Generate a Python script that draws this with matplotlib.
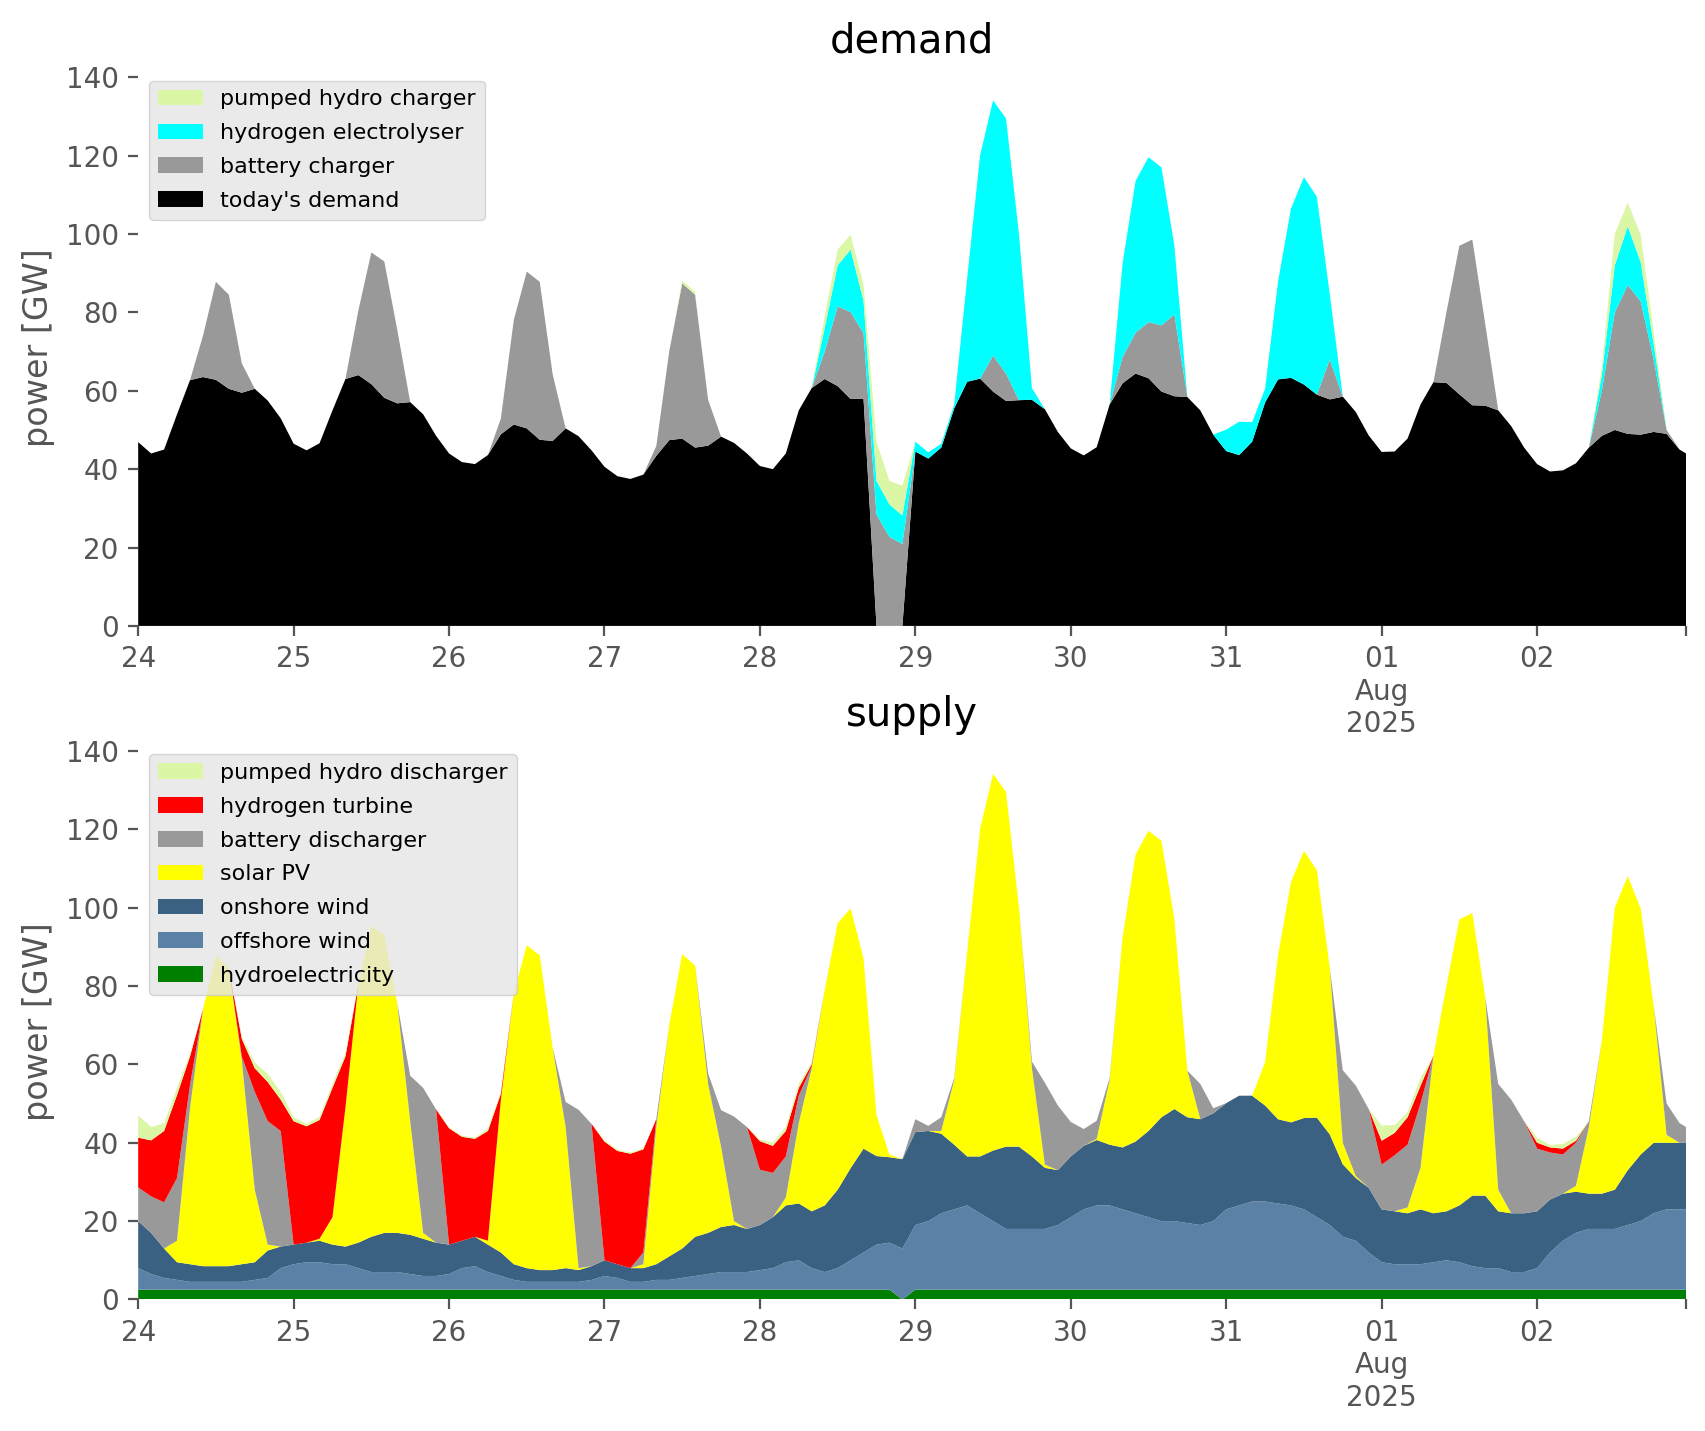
import matplotlib
matplotlib.use('Agg')
import matplotlib.pyplot as plt
import numpy as np
import pandas as pd

plt.style.use('ggplot')

# two-hourly samples, 24 Jul 2025 00:00 to 3 Aug 00:00
times = pd.date_range('2025-07-24', periods=121, freq='2h')

# ---- demand side [GW] (one row per day)
todays_demand = [
    46.9, 44.0, 45.0, 54.0, 62.7, 63.5, 62.8, 60.5, 59.5, 60.5, 57.5, 53.0,
    46.5, 44.8, 46.6, 55.0, 63.0, 64.0, 61.7, 58.2, 56.8, 57.1, 54.0, 48.5,
    44.0, 41.8, 41.3, 43.6, 48.9, 51.4, 50.4, 47.5, 47.2, 50.4, 48.4, 44.8,
    40.6, 38.2, 37.5, 38.6, 43.4, 47.4, 47.8, 45.5, 46.0, 48.3, 46.7, 44.0,
    40.8, 40.0, 44.0, 55.0, 60.7, 63.0, 61.2, 57.9, 58.0, 0.0, 0.0, 0.0,
    44.5, 42.7, 45.5, 55.5, 62.3, 63.1, 59.8, 57.4, 57.6, 57.7, 55.3, 49.5,
    45.3, 43.5, 45.6, 56.5, 61.9, 64.4, 63.2, 59.8, 58.6, 58.4, 55.0, 48.8,
    44.6, 43.6, 47.0, 57.0, 62.9, 63.3, 61.6, 59.0, 57.8, 58.5, 54.6, 48.6,
    44.4, 44.5, 47.8, 56.5, 62.2, 62.0, 59.1, 56.3, 56.2, 55.0, 51.0, 45.5,
    41.3, 39.4, 39.7, 41.5, 45.5, 48.5, 50.0, 49.0, 48.8, 49.5, 49.0, 45.0,
    43.0]
battery_charger = [
    0, 0, 0, 0, 0, 10.5, 25, 24, 7.5, 0, 0, 0,
    0, 0, 0, 0, 0, 16.5, 33.6, 34.8, 18.8, 0, 0, 0,
    0, 0, 0, 0, 4, 26.7, 40, 40.3, 17, 0, 0, 0,
    0, 0, 0, 0, 2.5, 22.7, 39.6, 39, 11.7, 0, 0, 0,
    0, 0, 0, 0, 0, 7, 20.3, 22.2, 16.7, 28.5, 22.7, 20.9,
    0, 0, 0, 0, 0, 0, 9.2, 7, 0, 0, 0, 0,
    0, 0, 0, 0, 6.7, 10.4, 14.3, 16.9, 20.9, 0, 0, 0,
    0, 0, 0, 0, 0, 0, 0, 0, 10.2, 0, 0, 0,
    0, 0, 0, 0, 0, 18, 37.9, 42.3, 20.8, 0, 0, 0,
    0, 0, 0, 0, 0, 11.5, 30, 38, 34, 18.5, 1, 0,
    0]
hydrogen_electrolyser = [
    0, 0, 0, 0, 0, 0, 0, 0, 0, 0, 0, 0,
    0, 0, 0, 0, 0, 0, 0, 0, 0, 0, 0, 0,
    0, 0, 0, 0, 0, 0, 0, 0, 0, 0, 0, 0,
    0, 0, 0, 0, 0, 0, 0, 0, 0, 0, 0, 0,
    0, 0, 0, 0, 0, 6, 10.5, 15.9, 8.3, 8.5, 8.3, 7.3,
    2.5, 1.6, 1, 1, 26.4, 57, 65.1, 65.1, 42.4, 3, 0, 0,
    0, 0, 0, 0, 23.9, 38.7, 42.1, 40.3, 17.5, 0, 0, 0,
    5.5, 8.5, 5, 3.5, 24.9, 43.2, 52.9, 50.5, 16.5, 0, 0, 0,
    0, 0, 0, 0, 0, 0, 0, 0, 0, 0, 0, 0,
    0, 0, 0, 0, 0, 4, 12, 15, 10, 4, 0, 0,
    0]
pumped_hydro_charger = [
    0, 0, 0, 0, 0, 0, 0, 0, 0, 0, 0, 0,
    0, 0, 0, 0, 0, 0, 0, 0, 0, 0, 0, 0,
    0, 0, 0, 0, 0, 0, 0, 0, 0, 0, 0, 0,
    0, 0, 0, 0, 0, 0, 0.7, 0.7, 0, 0, 0, 0,
    0, 0, 0, 0, 0, 3, 4, 3.8, 4, 10, 6, 7.6,
    0, 0, 0, 0, 0, 0, 0, 0, 0, 0, 0, 0,
    0, 0, 0, 0, 0, 0, 0, 0, 0, 0, 0, 0,
    0, 0, 0, 0, 0, 0, 0, 0, 0, 0, 0, 0,
    0, 0, 0, 0, 0, 0, 0, 0, 0, 0, 0, 0,
    0, 0, 0, 0, 0, 2, 8, 6, 7, 3, 0, 0,
    0]

# ---- supply side [GW]
hydroelectricity = [2.5] * 121
hydroelectricity[59] = 0.0
offshore_wind = [
    5.5, 4, 3, 2.5, 2, 2, 2, 2, 2, 2.5, 3, 5.5,
    6.5, 7, 7, 6.5, 6.5, 5.5, 4.5, 4.5, 4.5, 4, 3.5, 3.5,
    4, 5.5, 6, 4.5, 3.5, 2.5, 2, 2, 2, 2, 2, 2.5,
    3.5, 3, 2, 2, 2.5, 2.5, 3, 3.5, 4, 4.5, 4.5, 4.5,
    5, 5.5, 7, 7.5, 5.5, 4.5, 5.5, 7.5, 9.5, 11.5, 12, 13,
    16.5, 17.5, 19.5, 20.5, 21.5, 19.5, 17.5, 15.5, 15.5, 15.5, 15.5, 16.5,
    18.5, 20.5, 21.5, 21.5, 20.5, 19.5, 18.5, 17.5, 17.5, 17, 16.5, 17.5,
    20.5, 21.5, 22.5, 22.5, 22, 21.5, 20.5, 18.5, 16.5, 13.5, 12.5, 9.5,
    7, 6.5, 6.5, 6.5, 7, 7.5, 7, 6, 5.5, 5.5, 4.5, 4.5,
    5.5, 9.5, 12.5, 14.5, 15.5, 15.5, 15.5, 16.5, 17.5, 19.5, 20.5, 20.5,
    20.5]
onshore_wind = [
    12, 10.5, 7.5, 4.5, 4.5, 4, 4, 4, 4.5, 4.5, 7, 5.5,
    5, 5, 5.5, 5, 4.5, 6.5, 9, 10, 10, 10, 9.5, 8.5,
    7.5, 7, 7.5, 7, 6, 4, 3.5, 3, 3, 3.5, 3, 3.5,
    4, 3.5, 3.5, 3.5, 4, 6, 7.5, 10, 10.5, 11.5, 12, 11,
    11.5, 13, 14.5, 14.5, 14.5, 17, 20, 23.5, 26.5, 22.6, 21.8, 22.8,
    23.7, 23, 20.3, 16.5, 12.5, 14.5, 18, 21, 21, 18.5, 15.6, 14,
    15.5, 16.2, 16.7, 15.5, 15.8, 18.3, 22, 26.5, 28.6, 27, 27, 27.5,
    27.1, 28, 27, 24.5, 21.5, 21.2, 23.3, 25.4, 23.1, 18.5, 16, 16.5,
    13.5, 13.5, 13, 14, 12.5, 12.5, 14.5, 18, 18.5, 14.5, 15, 15,
    14.5, 13.5, 12, 10.5, 9, 9, 10, 14, 17, 18, 17, 17,
    17]
solar_pv = [
    0, 0, 0, 5.5, 39.8, 65.5, 79.3, 76, 52, 18.5, 1.5, 0,
    0, 0, 0.5, 7, 35.5, 66, 79.3, 76, 58.6, 29, 1.5, 0,
    0, 0, 0, 1, 39, 69.2, 82.4, 80.3, 56.7, 36, 0.5, 0,
    0, 0, 0, 1, 35, 59.1, 75.1, 69.2, 38, 20.5, 1, 0,
    0, 0, 2, 20.5, 36.5, 55, 68, 66.3, 48.5, 10.4, 0.7, 0,
    0, 0, 0.7, 16.5, 52.2, 83.6, 96.1, 90.5, 61, 22.5, 0.8, 0,
    0, 0, 0.3, 16.5, 53.7, 73.2, 76.6, 70.5, 48.4, 11.9, 0, 0,
    0, 0, 0, 11, 41.8, 61.3, 68.2, 63.1, 42.4, 5.5, 0.5, 0,
    0, 0, 1.5, 10.6, 40.2, 57.5, 73, 72.1, 50.5, 5.5, 0, 0,
    0, 0, 0, 1.5, 17, 39, 72, 75, 62.8, 35, 2, 0,
    0]
battery_discharger = [
    8.6, 9.3, 11.8, 16, 5.9, 0, 0, 0, 1, 25, 31.5, 29.5,
    0, 0, 0, 0, 0, 0, 0, 0, 0, 11.6, 37, 34,
    0, 0, 0, 0, 0, 0, 0, 0, 0, 6.4, 40.4, 36.3,
    0, 0, 0, 3, 2, 0, 0, 0, 2.7, 9.3, 26.7, 26,
    14.1, 11.3, 10.5, 7, 0.5, 0, 0, 0, 0, 0, 0, 0,
    3.3, 1.3, 3.5, 0.5, 0, 0, 0, 0, 0, 1.7, 20.9, 16.5,
    8.8, 4.3, 4.6, 0.5, 0, 0, 0, 0, 0, 0, 9, 1.3,
    0, 0, 0, 0, 0, 0, 0, 0, 0, 18.5, 23.1, 20.1,
    11.4, 14.3, 16, 16.4, 0, 0, 0, 0, 0, 27, 29, 23.5,
    16, 12, 10, 11, 1.5, 0, 0, 0, 0, 0, 8, 5,
    3]
hydrogen_turbine = [
    12.7, 14.3, 18.2, 21.2, 7.3, 0, 0, 0, 4.5, 6, 10, 8,
    31.5, 29.7, 30.3, 33, 13, 0, 0, 0, 0, 0, 0, 0,
    29.7, 26.5, 25, 28, 1.5, 0, 0, 0, 0, 0, 0, 0,
    30.3, 28.9, 29.2, 26.3, 0, 0, 0, 0, 0, 0, 0, 0,
    7.3, 6.9, 6.5, 2, 0.5, 0, 0, 0, 0, 0, 0, 0,
    0, 0, 0, 0, 0, 0, 0, 0, 0, 0, 0, 0,
    0, 0, 0, 0, 0, 0, 0, 0, 0, 0, 0, 0,
    0, 0, 0, 0, 0, 0, 0, 0, 0, 0, 0, 0,
    6.1, 5.7, 7, 4.5, 0, 0, 0, 0, 0, 0, 0, 0,
    1.5, 1.3, 1.5, 0.5, 0, 0, 0, 0, 0, 0, 0, 0,
    0]
pumped_hydro_discharger = [
    5.7, 3.4, 2, 1.8, 0.7, 0, 0, 0, 0.5, 1.5, 2, 2,
    1, 0.6, 0.8, 1, 1, 0, 0, 0, 0, 0, 0, 0,
    0.3, 0.3, 0.3, 0.6, 0.5, 0, 0, 0, 0, 0, 0, 0,
    0.3, 0.3, 0.3, 0.3, 0, 0, 0, 0, 0, 0, 0, 0,
    0.4, 0.8, 1, 1, 0.7, 0, 0, 0, 0, 0, 0, 0,
    0, 0, 0, 0, 0, 0, 0, 0, 0, 0, 0, 0,
    0, 0, 0, 0, 0, 0, 0, 0, 0, 0, 0, 0,
    0, 0, 0, 0, 0, 0, 0, 0, 0, 0, 0, 0,
    3.9, 2, 1.3, 2, 0, 0, 0, 0, 0, 0, 0, 0,
    1.3, 0.6, 1.2, 1, 0, 0, 0, 0, 0, 0, 0, 0,
    0]

day_ticks = pd.date_range('2025-07-24', '2025-08-02', freq='D')
day_labels = ['24', '25', '26', '27', '28', '29', '30', '31', '01\nAug\n2025', '02']
x_end = pd.Timestamp('2025-08-02 23:00')

fig = plt.figure(figsize=(8.53, 7.155), dpi=200)
ax1 = fig.add_axes([0.081, 0.5626, 0.9073, 0.3889])
ax2 = fig.add_axes([0.081, 0.0919, 0.9073, 0.3889])

# demand
ax1.stackplot(times, todays_demand, battery_charger, hydrogen_electrolyser,
              pumped_hydro_charger,
              labels=["today's demand", 'battery charger', 'hydrogen electrolyser',
                      'pumped hydro charger'],
              colors=['black', '#999999', '#00ffff', '#dbf6a5'], linewidth=0)
ax1.set_title('demand')

# supply
ax2.stackplot(times, hydroelectricity, offshore_wind, onshore_wind, solar_pv,
              battery_discharger, hydrogen_turbine, pumped_hydro_discharger,
              labels=['hydroelectricity', 'offshore wind', 'onshore wind', 'solar PV',
                      'battery discharger', 'hydrogen turbine', 'pumped hydro discharger'],
              colors=['#008000', '#5b82a6', '#3b6182', '#ffff00', '#999999',
                      '#ff0000', '#dbf6a5'], linewidth=0)
ax2.set_title('supply')

for ax in (ax1, ax2):
    ax.set_facecolor('white')
    ax.grid(False)
    for s in ax.spines.values():
        s.set_visible(False)
    ax.set_xlim(times[0], x_end)
    ax.set_ylim(0, 142)
    ax.set_yticks(range(0, 141, 20))
    ax.set_xticks(day_ticks.tolist() + [x_end])
    ax.set_xticklabels(day_labels + [''])
    ax.set_ylabel('power [GW]')
    h, l = ax.get_legend_handles_labels()
    ax.legend(h[::-1], l[::-1], loc='upper left', fontsize=8, labelspacing=0.62,
              facecolor='#e5e5e5', framealpha=0.8)

fig.savefig('out.png', dpi=200)
